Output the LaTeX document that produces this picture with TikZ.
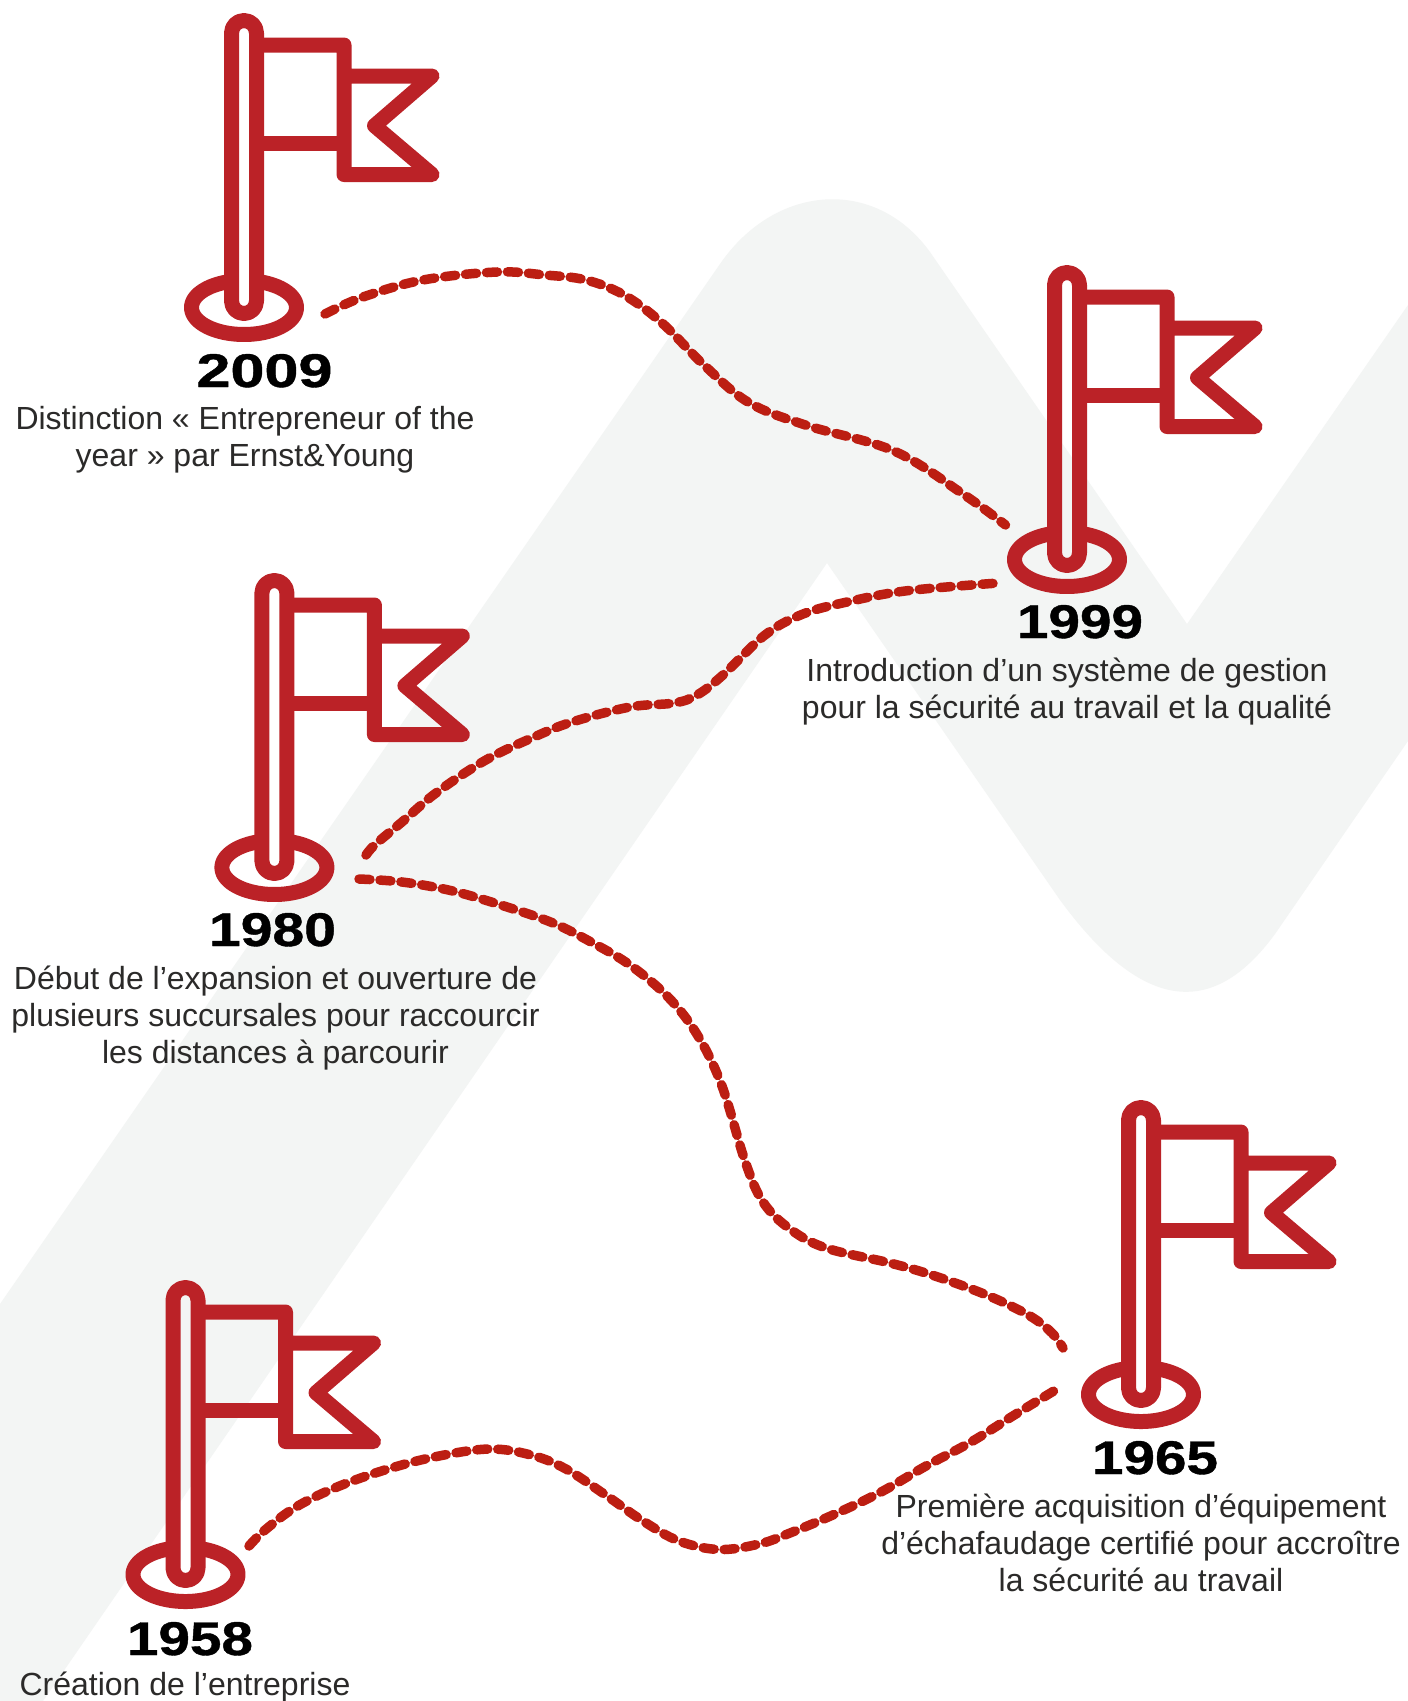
\documentclass[tikz,border=0pt]{standalone}
\usepackage{fontspec}
\usepackage{graphicx}
\setmainfont{Liberation Sans}
\newfontfamily\yearfont[FakeBold=0.8]{Liberation Sans Bold}
\definecolor{flagred}{HTML}{BB2227}
\definecolor{trailred}{HTML}{BC1E12}
\definecolor{wavegray}{HTML}{F3F5F4}
\definecolor{bodytext}{HTML}{2B2A29}
\newcommand{\yr}[2]{\resizebox{#1}{33pt}{\yearfont #2}}
\tikzset{
  x=1pt,y=-1pt,
  flagline/.style={draw=flagred,line width=15pt,line join=round},
  trail/.style={draw=trailred,line width=9.5pt,line cap=round,dash pattern=on 11pt off 10pt},
  yearlabel/.style={anchor=base,inner sep=0pt,outer sep=0pt,text=black},
  desc/.style={anchor=base,inner sep=0pt,outer sep=0pt,text=bodytext,font=\fontsize{32pt}{37pt}\selectfont},
  flagmark/.pic={
    \draw[flagline,rounded corners=12.5pt] (-12.5,7.5) rectangle (12.5,300.5);
    \draw[flagline] plot[domain=-76:256,samples=80,smooth] ({52.5*cos(\x)},{294.5+27*sin(\x)});
    \draw[flagline] (12.5,32) -- (100,32) -- (100,161.5) -- (188,161.5) -- (130.5,112.7) -- (188,63) -- (100,63);
    \draw[flagline] (12.5,130.6) -- (100,130.6);
  }
}
\begin{document}
\begin{tikzpicture}
\useasboundingbox (0,0) rectangle (1408,1701);
\fill[white] (0,0) rectangle (1408,1701);
\fill[wavegray] (0,1304) -- (720,264) .. controls (775,184) and (875,176) .. (930,252)
  -- (1187,624) -- (1408,305) -- (1408,741) -- (1275,934)
  .. controls (1215,1016) and (1145,1016) .. (1060,900)
  -- (827,563) -- (43,1701) -- (0,1701) -- cycle;

\pic at (244,13) {flagmark};
\pic at (1067,265) {flagmark};
\pic at (274.4,573) {flagmark};
\pic at (1141,1100) {flagmark};
\pic at (185.5,1280) {flagmark};

\node[yearlabel] (y2009) at (264.5,387) {\yr{136pt}{2009}};
\node[yearlabel] (y1999) at (1080,638) {\yr{126pt}{1999}};
\node[yearlabel] (y1980) at (272.5,946) {\yr{127pt}{1980}};
\node[yearlabel] (y1965) at (1155,1474) {\yr{126pt}{1965}};
\node[yearlabel] (y1958) at (190,1655) {\yr{126pt}{1958}};

\node[desc] (d2009a) at (245,429) {Distinction « Entrepreneur of the};
\node[desc] (d2009b) at (245,466) {year » par Ernst\&Young};
\node[desc] (d1999a) at (1067,681) {Introduction d’un système de gestion};
\node[desc] (d1999b) at (1067,718) {pour la sécurité au travail et la qualité};
\node[desc] (d1980a) at (275.5,989) {Début de l’expansion et ouverture de};
\node[desc] (d1980b) at (275.5,1026) {plusieurs succursales pour raccourcir};
\node[desc] (d1980c) at (275.5,1063) {les distances à parcourir};
\node[desc] (d1965a) at (1141,1517) {Première acquisition d’équipement};
\node[desc] (d1965b) at (1141,1554) {d’échafaudage certifié pour accroître};
\node[desc] (d1965c) at (1141,1591) {la sécurité au travail};
\node[desc] (d1958a) at (185,1695) {Création de l’entreprise};

\coordinate (t2009) at (325,314);
\coordinate (t1999in) at (1005.5,525);
\coordinate (t1999out) at (993,583.4);
\coordinate (t1980in) at (363,860);
\coordinate (t1980out) at (359,879);
\coordinate (t1965in) at (1063,1348);
\coordinate (t1965out) at (1062,1386);
\coordinate (t1958) at (249,1546);

\draw[trail] plot[smooth,tension=.6] coordinates {(t2009) (363,297) (423,280) (497,272) (545,275) (586,280) (624,295) (662,323) (705,366) (749,402.6) (807,425.5) (894,451) (963,494) (t1999in)};
\draw[trail] plot[smooth,tension=.6] coordinates {(t1999out) (905,591) (847,602) (803,614) (765,635) (723,675) (697,695) (674,703) (630,707) (572,722) (533,737.5) (485,760.5) (436,793) (402,822) (373,846.6) (t1980in)};
\draw[trail] plot[smooth,tension=.6] coordinates {(t1980out) (402,882) (451,890.6) (504,906) (553,923) (591,942) (630,965) (669,998) (698,1036) (722,1086) (745,1161) (763,1202) (790,1229) (826,1248) (890,1263) (935,1276) (989,1296) (1030,1316) (1052,1333) (t1965in)};
\draw[trail] plot[smooth,tension=.6] coordinates {(t1958) (265,1530) (296,1507) (337,1487) (388,1469) (439,1456) (490,1449) (531,1455) (566,1469) (607,1496) (643,1521) (679,1541) (719,1549.5) (759,1544) (790,1533) (835,1514) (881,1492) (926,1466) (971,1442) (1016,1414) (t1965out)};
\end{tikzpicture}
\end{document}
